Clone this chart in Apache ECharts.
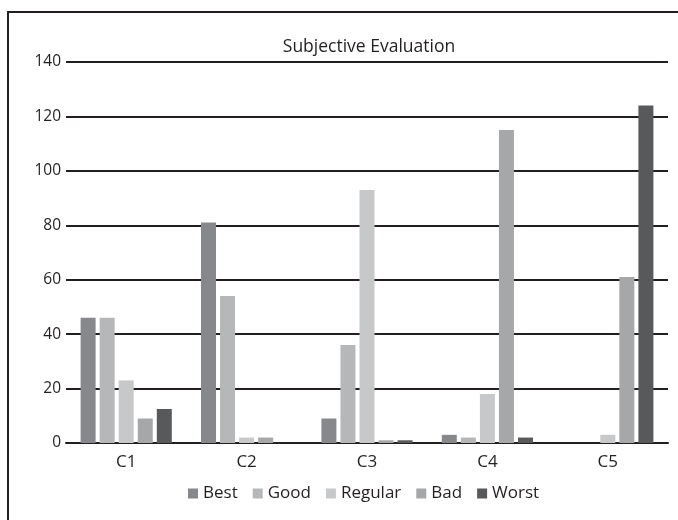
<!DOCTYPE html>
<html>
<head>
<meta charset="utf-8">
<script src="https://cdn.jsdelivr.net/npm/echarts@6/dist/echarts.min.js"></script>
<style>
html,body{margin:0;padding:0;background:#fff;}
#chart{width:678px;height:520px;}
</style>
</head>
<body>
<div id="chart"></div>
<script>
const categories = ['C1', 'C2', 'C3', 'C4', 'C5'];
const best    = [46, 81, 9, 3, 0];
const good    = [46, 54, 36, 2, 0];
const regular = [23, 2, 93, 18, 3];
const bad     = [9, 2, 1, 115, 61];
const worst   = [12.5, 0, 1, 2, 124];
const seriesNames = ['Best', 'Good', 'Regular', 'Bad', 'Worst'];
const colors = ['#87888b', '#b6b7b9', '#c7c8ca', '#a6a7a9', '#58595b'];
const values = [best, good, regular, bad, worst];

const font = '"Open Sans", sans-serif';
const chart = echarts.init(document.getElementById('chart'));
chart.setOption({
  animation: false,
  title: {
    text: 'Subjective Evaluation',
    left: 364, top: 33, textAlign: 'center',
    textStyle: { fontFamily: font, fontSize: 17.5, fontWeight: 'normal', color: '#231f20' }
  },
  graphic: [{
    type: 'rect', shape: { x: 8, y: 12, width: 720, height: 560 },
    style: { fill: 'none', stroke: '#231f20', lineWidth: 2 }, silent: true
  }],
  legend: {
    bottom: 13, left: 183, itemWidth: 10, itemHeight: 10, itemGap: 15,
    icon: 'rect',
    textStyle: { fontFamily: font, fontSize: 17, color: '#231f20' },
    data: seriesNames
  },
  grid: { left: 66, right: 10, top: 62, bottom: 77, containLabel: false },
  xAxis: {
    type: 'category', data: categories,
    axisLine: { lineStyle: { color: '#231f20', width: 2 } },
    axisTick: { show: false },
    axisLabel: { fontFamily: font, fontSize: 17, color: '#231f20', margin: 11 }
  },
  yAxis: {
    type: 'value', min: 0, max: 140, interval: 20,
    axisLine: { show: false }, axisTick: { show: false },
    splitLine: { lineStyle: { color: '#231f20', width: 2 } },
    axisLabel: { fontFamily: font, fontSize: 15.5, color: '#231f20', margin: 5 }
  },
  series: seriesNames.map((n, i) => ({
    name: n, type: 'bar', data: values[i], barWidth: 15, barGap: '27%',
    itemStyle: { color: colors[i] }
  }))
});
</script>
</body>
</html>
